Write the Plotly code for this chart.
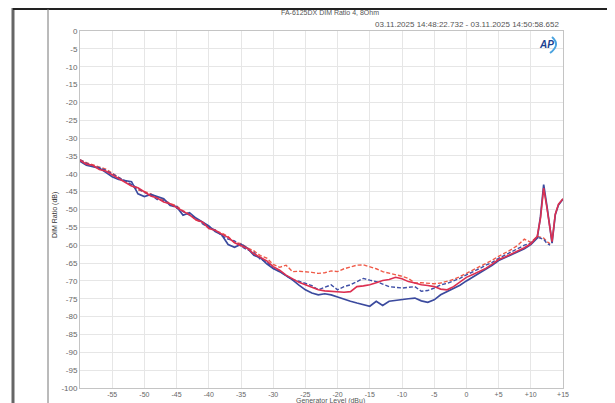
import plotly.graph_objects as go

# ---- data ----
x_full = [-60, -59, -58, -57, -56, -55, -54, -53, -52, -51, -50, -49, -48, -47, -46, -45, -44, -43, -42, -41,
          -40, -39, -38, -37, -36, -35, -34, -33, -32, -31, -30, -29, -28, -27, -26, -25, -24, -23, -22, -21,
          -20, -19, -18, -17, -16, -15, -14, -13, -12, -11, -10, -9, -8, -7, -6, -5, -4, -3, -2, -1,
          0, 1, 2, 3, 4, 5, 6, 7, 8, 9, 10, 11, 11.5, 12, 12.5, 13, 13.3, 13.8, 14.3, 15]

blue_solid = [-36.5, -37.6, -38.0, -38.4, -39.6, -40.8, -41.6, -41.8, -42.2, -45.6, -46.4, -45.8, -46.3, -47.0, -48.9, -49.2, -51.6, -50.9, -52.4, -53.6,
              -54.6, -56.2, -57.1, -59.8, -60.6, -59.7, -60.8, -62.8, -63.5, -65.2, -66.5, -67.4, -68.6, -69.7, -71.2, -72.5, -73.4, -73.9, -73.6, -73.9,
              -74.5, -75.2, -75.7, -76.2, -76.6, -77.1, -75.7, -76.9, -75.7, -75.4, -75.1, -75.0, -74.8, -75.6, -76.0, -75.3, -73.9, -73.0, -72.2, -71.2,
              -70.0, -68.9, -67.9, -66.9, -65.6, -64.3, -63.5, -62.8, -61.9, -61.0, -59.8, -58.0, -52.0, -43.0, -49.0, -55.0, -59.4, -51.5, -48.7, -47.1]

red_solid = [-36.2, -37.3, -37.6, -38.8, -39.2, -40.2, -41.3, -42.4, -43.4, -43.9, -45.0, -46.2, -46.8, -47.9, -48.4, -49.5, -50.6, -51.5, -52.9, -53.5,
             -55.3, -55.8, -56.9, -57.8, -59.3, -60.2, -60.9, -62.4, -63.4, -64.4, -66.0, -67.0, -68.4, -69.5, -70.4, -71.1, -71.9, -72.5, -72.8, -73.0,
             -73.0, -73.2, -73.0, -71.6, -71.4, -71.1, -70.5, -69.9, -69.6, -69.0, -69.4, -70.2, -70.6, -71.1, -71.3, -71.6, -72.3, -72.5, -71.6, -70.4,
             -69.0, -68.2, -67.4, -66.5, -65.3, -64.0, -63.3, -62.5, -61.6, -60.7, -59.6, -57.5, -52.5, -44.0, -49.5, -55.3, -59.0, -51.3, -48.5, -47.0]

x_dash = [-60, -59, -58, -57, -56, -55, -54, -53, -52, -51, -50, -49, -48, -47, -46, -45, -44, -43, -42, -41,
          -40, -39, -38, -37, -36, -35, -34, -33, -32, -31, -30, -29, -28, -27, -26, -25, -24, -23, -22, -21,
          -20, -19, -18, -17, -16, -15, -14, -13, -12, -11, -10, -9, -8, -7, -6, -5, -4, -3, -2, -1,
          0, 1, 2, 3, 4, 5, 6, 7, 8, 9, 10, 11, 12, 12.5, 13]

red_dash = [-36.0, -36.9, -37.5, -38.2, -38.7, -39.8, -41.0, -42.3, -43.3, -44.5, -45.0, -45.6, -46.6, -47.3, -48.3, -49.0, -50.4, -51.2, -53.0, -53.6,
            -54.8, -56.0, -56.6, -57.6, -59.2, -59.6, -60.7, -61.6, -62.9, -63.6, -65.4, -66.2, -65.6, -67.4, -67.3, -67.4, -67.6, -67.9, -67.7, -67.2,
            -67.4, -66.6, -66.2, -65.6, -65.5, -66.0, -66.6, -67.4, -67.8, -68.2, -68.7, -69.3, -70.6, -70.5, -70.6, -70.8, -70.6, -70.2, -69.6, -68.8,
            -67.9, -67.0, -66.0, -65.1, -64.2, -63.1, -62.2, -61.2, -60.0, -58.3, -59.2, -57.5, -58.0, -59.0, -59.6]

blue_dash = [-36.1, -37.0, -37.9, -38.3, -39.0, -40.0, -41.1, -42.0, -43.0, -44.2, -45.2, -46.0, -47.2, -47.6, -48.6, -49.8, -50.6, -51.6, -52.4, -54.0,
             -55.1, -55.7, -57.3, -58.3, -58.8, -60.3, -61.3, -62.0, -64.0, -64.6, -66.5, -67.3, -68.5, -69.7, -70.1, -70.6, -71.3, -72.5, -71.9, -71.1,
             -72.5, -71.6, -71.1, -70.2, -69.3, -69.8, -70.2, -70.9, -71.6, -71.8, -72.0, -71.8, -71.6, -72.9, -72.7, -72.0, -71.1, -70.7, -70.1, -69.3,
             -68.3, -67.5, -66.6, -65.6, -64.8, -63.7, -62.8, -61.8, -60.8, -60.0, -59.4, -57.8, -58.3, -59.5, -60.0]

x_tickvals = [-55, -50, -45, -40, -35, -30, -25, -20, -15, -10, -5, 0, 5, 10, 15]
x_ticktext = ["-55", "-50", "-45", "-40", "-35", "-30", "-25", "-20", "-15", "-10", "-5", "0", "+5", "+10", "+15"]
y_tickvals = list(range(0, -101, -5))
y_ticktext = [str(v) for v in y_tickvals]

title_text = "FA-6125DX DIM Ratio 4, 8Ohm"
date_text = "03.11.2025 14:48:22.732 - 03.11.2025 14:50:58.652"

# ---- figure ----
fig = go.Figure()
fig.add_trace(go.Scatter(x=x_dash, y=red_dash, mode="lines",
                         line=dict(color="#ef5a48", width=1.4, dash="4px,2px")))
fig.add_trace(go.Scatter(x=x_dash, y=blue_dash, mode="lines",
                         line=dict(color="#3f4fa6", width=1.4, dash="4px,2px")))
fig.add_trace(go.Scatter(x=x_full, y=blue_solid, mode="lines",
                         line=dict(color="#3b4a9e", width=1.7)))
fig.add_trace(go.Scatter(x=x_full, y=red_solid, mode="lines",
                         line=dict(color="#dc2f50", width=1.6)))

OFF = 8  # page body margin
W, H = 615 - OFF, 403 - OFF
L, R, T, B = 80, 563, 31, 388  # target page pixel positions
pw, ph = R - L, B - T


def px(xp):
    return (xp - L) / pw


def py(yp):
    return (B - yp) / ph


fig.update_layout(
    template="none",
    width=W, height=H,
    margin=dict(l=L - OFF, r=W - (R - OFF), t=T - OFF, b=H - (B - OFF), pad=0, autoexpand=False),
    paper_bgcolor="white", plot_bgcolor="white",
    showlegend=False,
    font=dict(family="Liberation Sans, Arial, sans-serif", size=8, color="#666"),
)
fig.update_xaxes(range=[-60, 15], tickvals=x_tickvals, ticktext=x_ticktext, automargin=False,
                 showgrid=True, gridcolor="#e6e6e6", gridwidth=1,
                 showline=True, linecolor="#c4c4c4", linewidth=1, mirror=True,
                 zeroline=False, ticks="", ticklen=0, tickfont=dict(size=7, color="#666"))
fig.update_yaxes(range=[-100, 0], tickvals=y_tickvals, ticktext=y_ticktext, automargin=False,
                 showgrid=True, gridcolor="#e6e6e6", gridwidth=1,
                 showline=True, linecolor="#c4c4c4", linewidth=1, mirror=True,
                 zeroline=False, ticks="", ticklen=0, tickfont=dict(size=8, color="#666"))

anns = [
    dict(text=title_text, x=px(330), y=py(13), xref="paper", yref="paper",
         showarrow=False, font=dict(size=7, color="#555"), xanchor="center", yanchor="middle"),
    dict(text=date_text, x=px(561), y=py(24), xref="paper", yref="paper",
         showarrow=False, font=dict(size=8, color="#555"), xanchor="right", yanchor="middle"),
    dict(text="DIM Ratio (dB)", x=px(55), y=py(215), xref="paper", yref="paper", textangle=-90,
         showarrow=False, font=dict(size=7, color="#333"), xanchor="center", yanchor="middle"),
    dict(text="Generator Level (dBu)", x=px(330), y=py(401), xref="paper", yref="paper",
         showarrow=False, font=dict(size=7, color="#555"), xanchor="center", yanchor="middle"),
    dict(text="<b><i>AP</i></b>", x=px(546), y=py(45), xref="paper", yref="paper",
         showarrow=False, font=dict(size=10, color="#1b3f8f"), xanchor="center", yanchor="middle"),
]
fig.update_layout(annotations=anns)

shapes = [
    # outer frame
    dict(type="line", xref="paper", yref="paper", x0=px(13), x1=px(13), y0=py(0), y1=py(403),
         line=dict(color="#666", width=3)),
    dict(type="line", xref="paper", yref="paper", x0=px(13), x1=px(609), y0=py(9), y1=py(9),
         line=dict(color="#222", width=2)),
    dict(type="line", xref="paper", yref="paper", x0=px(609), x1=px(609), y0=py(9), y1=py(403),
         line=dict(color="#333", width=1.5)),
    dict(type="line", xref="paper", yref="paper", x0=px(48), x1=px(48), y0=py(9), y1=py(403),
         line=dict(color="#777", width=1)),
    # AP swoosh
    dict(type="path", xref="paper", yref="paper",
         path=f"M {px(552)},{py(37)} Q {px(561)},{py(45)} {px(550)},{py(53)}",
         line=dict(color="#4aa3df", width=2)),
]
fig.update_layout(shapes=shapes)

fig.write_html("out.html")
